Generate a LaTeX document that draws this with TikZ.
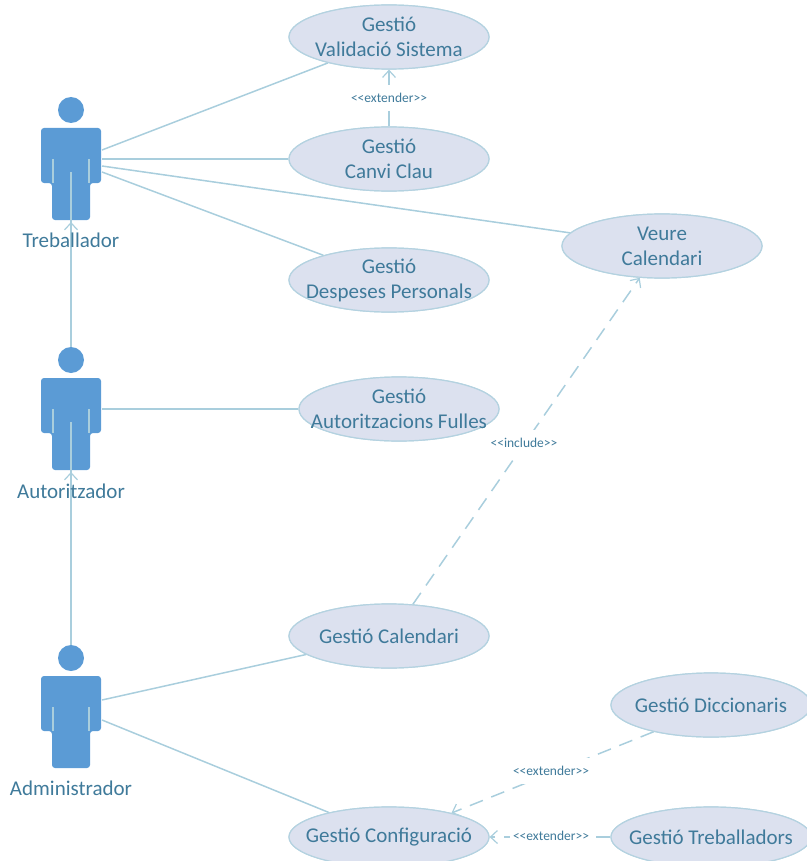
\documentclass[tikz,border=0pt]{standalone}
\usepackage{fontspec}
\setmainfont{Carlito}
\usetikzlibrary{shapes.geometric,arrows.meta}
\definecolor{linec}{HTML}{A9CEDD}
\definecolor{ellfill}{HTML}{DCE1EF}
\definecolor{ellline}{HTML}{B4D2E0}
\definecolor{txt}{HTML}{3F7A9A}
\definecolor{actorc}{HTML}{5B9BD5}
\tikzset{
  usecase/.style={ellipse,draw=ellline,fill=ellfill,line width=1.2pt,minimum width=200pt,minimum height=64pt,inner xsep=-40pt,inner ysep=-14pt,align=center,text=txt,font=\fontsize{21}{25}\selectfont},
  lowcase/.style={usecase,minimum height=60pt},
  conn/.style={draw=linec,line width=1.5pt},
  dep/.style={conn,dash pattern=on 14pt off 9pt},
  opena/.style={-{Straight Barb[length=7pt,width=13pt,line width=1.2pt]}},
  stereo/.style={fill=white,inner xsep=3pt,inner ysep=8pt,text=txt,font=\fontsize{13.5}{14}\selectfont},
  actorname/.style={text=txt,font=\fontsize{21}{22}\selectfont,inner sep=0pt},
}
\newcommand{\actorshape}[2]{%
  \fill[actorc] (#1,#2-18) circle (13);
  \fill[actorc,rounded corners=3pt] (#1-30,#2) -- (#1+30,#2) -- (#1+30,#2+55) -- (#1+19,#2+55) -- (#1+19,#2+92) -- (#1-19,#2+92) -- (#1-19,#2+55) -- (#1-30,#2+55) -- cycle;
  \draw[linec,line width=1.2pt] (#1-18,#2+31) -- (#1-18,#2+55) (#1+18,#2+31) -- (#1+18,#2+55);
}
\begin{document}
\begin{tikzpicture}[x=1pt,y=-1pt]
\useasboundingbox (0,0) rectangle (806,861);
\coordinate (treb) at (102,159);
\coordinate (treba) at (102,150);
\coordinate (trebb) at (102,166);
\coordinate (trebc) at (102,172);
\coordinate (aut) at (102,409);
\coordinate (adma) at (102,700);
\coordinate (admb) at (102,720);
\coordinate (trebfoot) at (71,222);
\coordinate (authead) at (71,347);
\coordinate (autfoot) at (71,472);
\coordinate (admhead) at (71,645);
\coordinate (trebin) at (71,172);
\coordinate (autin) at (71,422);

\actorshape{71}{128}
\actorshape{71}{378}
\actorshape{71}{676}

\node[usecase] (val) at (389,37) {Gestió\\Validació Sistema};
\node[usecase] (canvi) at (389,159) {Gestió\\Canvi Clau};
\node[usecase] (desp) at (389,280) {Gestió\\Despeses Personals};
\node[usecase] (veure) at (662,246) {Veure\\Calendari};
\node[usecase] (auto) at (399,409) {Gestió\\Autoritzacions Fulles};
\node[usecase] (cal) at (389,636) {Gestió Calendari};
\node[lowcase] (conf) at (389,837) {Gestió Configuració};
\node[usecase] (dicc) at (711,705) {Gestió Diccionaris};
\node[lowcase] (treballa) at (711,837) {Gestió Treballadors};

\draw[conn] (treba) -- (val.203);
\draw[conn] (treb) -- (canvi.west);
\draw[conn] (trebb) -- (veure);
\draw[conn] (trebc) -- (desp);
\draw[conn] (aut) -- (auto.west);
\draw[conn] (adma) -- (cal);
\draw[conn] (admb) -- (conf);
\draw[conn] (authead) -- (trebin);
\draw[conn] (admhead) -- (autin);
\draw[conn,opena] (authead) -- (trebfoot);
\draw[conn,opena] (admhead) -- (autfoot);

\draw[conn,opena] (canvi) -- (val);
\draw[dep,opena] (cal.53) -- (veure.235);
\draw[dep,opena] (dicc.205) -- (conf.21);
\draw[dep,opena] (treballa.west) -- (conf.east);

\node[stereo] (s1) at (389,98) {<{}<extender>{}>};
\node[stereo] (s2) at (524,443) {<{}<include>{}>};
\node[stereo] (s3) at (551,771) {<{}<extender>{}>};
\node[stereo] (s4) at (551,836) {<{}<extender>{}>};

% ellipses on top of connector ends
\node[usecase] at (val) {Gestió\\Validació Sistema};
\node[usecase] at (canvi) {Gestió\\Canvi Clau};
\node[usecase] at (desp) {Gestió\\Despeses Personals};
\node[usecase] at (veure) {Veure\\Calendari};
\node[usecase] at (auto) {Gestió\\Autoritzacions Fulles};
\node[usecase] at (cal) {Gestió Calendari};
\node[lowcase] at (conf) {Gestió Configuració};
\node[usecase] at (dicc) {Gestió Diccionaris};
\node[lowcase] at (treballa) {Gestió Treballadors};

\node[actorname] (n1) at (71,240) {Treballador};
\node[actorname] (n2) at (71,491) {Autoritzador};
\node[actorname] (n3) at (71,788) {Administrador};
\end{tikzpicture}
\end{document}
